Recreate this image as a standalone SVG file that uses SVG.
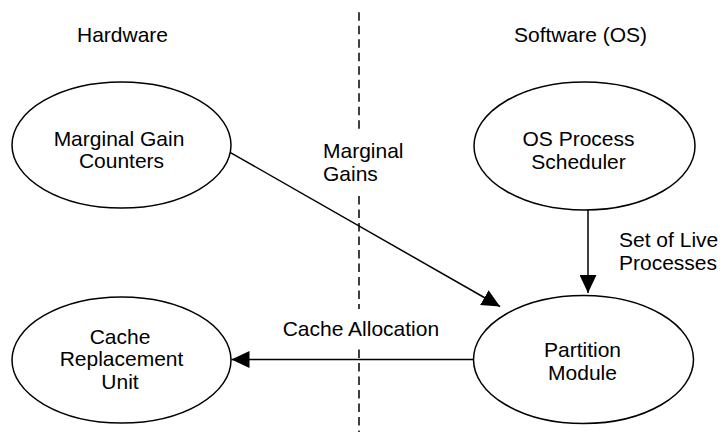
<svg xmlns="http://www.w3.org/2000/svg" width="723" height="432" viewBox="0 0 723 432">
  <defs>
    <style>
      text { font-family: "Liberation Sans", Arial, Helvetica, sans-serif; font-size: 21px; fill: #000; }
      .c { text-anchor: middle; }
      .node ellipse { fill: #fff; stroke: #000; stroke-width: 1.5; }
      .edge { stroke: #000; stroke-width: 1.5; fill: none; }
      .divider { stroke: #000; stroke-width: 1.5; stroke-dasharray: 8.5 5; }
    </style>
    <marker id="arrow" viewBox="0 0 18 17" refX="18" refY="8.5" markerWidth="18" markerHeight="17" markerUnits="userSpaceOnUse" orient="auto">
      <path d="M0,0 L18,8.5 L0,17 Z" fill="#000"/>
    </marker>
  </defs>

  <rect width="723" height="432" fill="#fff"/>

  <!-- column headings -->
  <text class="c" x="122.5" y="42">Hardware</text>
  <text class="c" x="580.5" y="42">Software (OS)</text>

  <!-- hardware / software boundary -->
  <g id="divider">
    <line class="divider" x1="359" y1="12.3" x2="359" y2="129"/>
    <line class="divider" x1="359" y1="196" x2="359" y2="309"/>
    <line class="divider" x1="359" y1="349.5" x2="359" y2="432"/>
  </g>

  <g id="connectors">
    <line class="edge" x1="230" y1="152.3" x2="500" y2="306.5" marker-end="url(#arrow)"/>
    <line class="edge" x1="588" y1="210" x2="588" y2="293" marker-end="url(#arrow)"/>
    <line class="edge" x1="474" y1="359.5" x2="231.5" y2="359.5" marker-end="url(#arrow)"/>
    <text x="323" y="158">Marginal</text>
    <text x="323" y="181">Gains</text>
    <text x="619" y="246.7">Set of Live</text>
    <text x="619" y="270">Processes</text>
    <text x="282.7" y="336">Cache Allocation</text>
  </g>

  <g id="marginal-gain-counters" class="node">
    <ellipse cx="121.5" cy="145" rx="109.5" ry="63"/>
    <text class="c" x="119" y="146">Marginal Gain</text>
    <text class="c" x="121.5" y="168">Counters</text>
  </g>

  <g id="os-process-scheduler" class="node">
    <ellipse cx="584.5" cy="146" rx="110.5" ry="64"/>
    <text class="c" x="578.5" y="146">OS Process</text>
    <text class="c" x="578.5" y="168.5">Scheduler</text>
  </g>

  <g id="cache-replacement-unit" class="node">
    <ellipse cx="121.5" cy="360" rx="109.5" ry="63"/>
    <text class="c" x="120" y="343.5">Cache</text>
    <text class="c" x="121.5" y="366">Replacement</text>
    <text class="c" x="120" y="388.5">Unit</text>
  </g>

  <g id="partition-module" class="node">
    <ellipse cx="583.5" cy="359.5" rx="110" ry="64"/>
    <text class="c" x="582.5" y="356.5">Partition</text>
    <text class="c" x="582.5" y="379.5">Module</text>
  </g>
</svg>
